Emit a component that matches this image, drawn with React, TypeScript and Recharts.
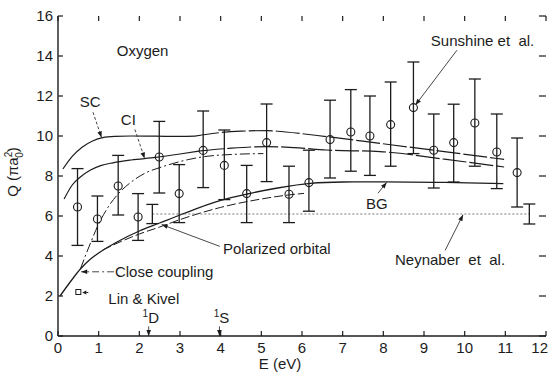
import { ComposedChart, Line, Scatter, ErrorBar, XAxis, YAxis, ReferenceLine, ReferenceDot } from 'recharts'

const INK = '#1c1c1c'
const FONT = '"Liberation Sans", Arial, Helvetica, sans-serif'
const W = 549, H = 373
const M = { top: 16, right: 3, bottom: 0, left: 0 }
const X_H = 37, Y_W = 58
const PLOT_W = W - M.left - M.right - Y_W
const PLOT_H = H - M.top - M.bottom - X_H

const xTicks = [0, 1, 2, 3, 4, 5, 6, 7, 8, 9, 10, 11, 12]
const yTicks = [0, 2, 4, 6, 8, 10, 12, 14, 16]

// Sunshine et al. measurements (open circles with error bars)
const sunE = [0.48, 0.97, 1.48, 1.97, 2.49, 2.98, 3.57, 4.09, 4.64, 5.13, 5.68, 6.17, 6.69, 7.2, 7.67, 8.18, 8.74, 9.24, 9.73, 10.25, 10.79, 11.29]
const sunQ = [6.45, 5.85, 7.5, 5.95, 8.95, 7.12, 9.28, 8.53, 7.12, 9.67, 7.09, 7.67, 9.82, 10.2, 10.0, 10.57, 11.42, 9.29, 9.67, 10.65, 9.2, 8.17]
const sunLo = [1.92, 1.12, 1.45, 1.17, 1.8, 1.45, 1.86, 1.71, 1.45, 1.95, 1.42, 1.43, 1.92, 1.96, 1.97, 2.08, 2.3, 1.89, 1.97, 2.16, 1.83, 1.72]
const sunHi = [1.92, 1.15, 1.53, 1.17, 1.78, 1.45, 1.97, 1.77, 1.41, 1.93, 1.4, 1.62, 1.97, 2.12, 2.0, 2.13, 2.28, 1.81, 1.92, 2.2, 1.9, 1.73]

// Neynaber et al. (dotted level with end error bars)
const neyE = [2.32, 11.59]
const neyQ = [6.1, 6.1]
const neyErr = [0.48, 0.5]

// Lin & Kivel
const linE = [0.5]
const linQ = [2.2]

// theory curves
const scSolidE = [0.12, 0.35, 0.6, 0.85, 1.1, 1.4, 1.8, 2.4, 3.0, 3.37]
const scSolidQ = [8.35, 8.98, 9.45, 9.75, 9.92, 9.98, 10.0, 9.99, 9.98, 9.99]
const scDashE = [3.37, 3.9, 4.5, 5.15, 5.6, 6.6, 7.92, 9.5, 10.97]
const scDashQ = [9.99, 10.15, 10.24, 10.27, 10.2, 9.97, 9.63, 9.22, 8.83]

const ciSolidE = [0.15, 0.35, 0.55, 0.8, 1.05, 1.35, 1.8, 2.4, 3.0, 3.5]
const ciSolidQ = [6.85, 7.55, 7.95, 8.3, 8.52, 8.66, 8.8, 8.93, 9.1, 9.26]
const ciDashE = [3.5, 4.2, 5.13, 5.8, 6.6, 7.92, 9.5, 10.97]
const ciDashQ = [9.26, 9.38, 9.47, 9.42, 9.3, 9.22, 8.84, 8.45]

const ccE = [0.55, 0.75, 1.0, 1.25, 1.5, 1.8, 2.15, 2.55, 3.2, 3.6, 4.3, 5.05]
const ccQ = [3.35, 4.4, 5.6, 6.5, 7.15, 7.7, 8.15, 8.45, 8.82, 8.97, 9.08, 9.12]

const bgE = [0.05, 0.3, 0.55, 0.8, 1.0, 1.45, 2.0, 2.5, 3.0, 4.0, 4.65, 5.4, 6.2, 7.0, 8.0, 9.5, 10.95]
const bgQ = [2.0, 2.7, 3.35, 3.85, 4.15, 4.7, 5.25, 5.65, 6.05, 6.78, 7.1, 7.4, 7.63, 7.7, 7.71, 7.68, 7.62]

const poE = [1.1, 1.5, 2.0, 2.5, 3.0, 4.0, 5.0, 5.7, 6.05]
const poQ = [4.3, 4.68, 5.1, 5.45, 5.82, 6.43, 6.85, 7.06, 7.13]

const toPts = (E: number[], Q: number[]) => E.map((e, i) => ({ E: e, Q: Q[i] }))
const sunData = sunE.map((e, i) => ({ E: e, Q: sunQ[i], err: [sunLo[i], sunHi[i]] }))
const neyData = neyE.map((e, i) => ({ E: e, Q: neyQ[i], err: neyErr[i] }))
const linData = toPts(linE, linQ)

// annotation texts [label, E, Q]
const notes: [string, number, number][] = [
  ['Oxygen', 2.08, 14.0],
  ['SC', 0.79, 11.45],
  ['CI', 1.73, 10.54],
  ['Sunshine et  al.', 10.44, 14.5],
  ['BG', 7.84, 6.37],
  ['Polarized orbital', 5.38, 4.12],
  ['Close coupling', 2.61, 2.95],
  ['Lin & Kivel', 2.11, 1.62],
  ['Neynaber  et  al.', 9.64, 3.53],
]

// leaders [E1, Q1, E2, Q2, dash]
const leaders: [number, number, number, number, string][] = [
  [0.86, 11.19, 1.07, 9.93, '3 2'],
  [1.89, 10.33, 2.13, 8.88, '3 2'],
  [9.81, 14.29, 8.79, 11.55, ''],
  [7.87, 7.14, 8.08, 7.68, ''],
  [3.98, 4.48, 2.55, 5.57, ''],
  [1.38, 3.21, 0.57, 3.21, '7 3 2 3'],
  [9.52, 4.28, 9.96, 6.06, ''],
  [2.23, 0.48, 2.23, 0, ''],
  [3.97, 0.48, 3.97, 0, ''],
]

const levels: [string, number][] = [['D', 2.08], ['S', 3.83]]

const Leader = (dash: string) => (p: any) => {
  const { x1, y1, x2, y2 } = p
  const a = Math.atan2(y2 - y1, x2 - x1)
  const L = 6, HW = 2.3
  const bx = x2 - L * Math.cos(a), by = y2 - L * Math.sin(a)
  const pts = `${x2},${y2} ${bx - HW * Math.sin(a)},${by + HW * Math.cos(a)} ${bx + HW * Math.sin(a)},${by - HW * Math.cos(a)}`
  return (
    <g>
      <line x1={x1} y1={y1} x2={x2} y2={y2} stroke="#333" strokeWidth={0.9} strokeDasharray={dash || undefined} />
      <polygon points={pts} fill={INK} />
    </g>
  )
}

// bottom axis tick: inward mark at bottom and top of the frame, plus label
const BottomTick = (p: any) => {
  const last = p.payload.value === xTicks[xTicks.length - 1]
  return (
    <g>
      <line x1={p.x} y1={p.y} x2={p.x} y2={p.y - 5} stroke={INK} strokeWidth={1.2} />
      <line x1={p.x} y1={p.y - PLOT_H} x2={p.x} y2={p.y - PLOT_H + 5} stroke={INK} strokeWidth={1.2} />
      <text x={last ? W - 1 : p.x} y={p.y + 17} textAnchor={last ? 'end' : 'middle'} fontSize={15} fill={INK} fontFamily={FONT}>{p.payload.value}</text>
    </g>
  )
}
// left axis tick: inward mark on left and right of the frame, plus label
const LeftTick = (p: any) => (
  <g>
    <line x1={p.x} y1={p.y} x2={p.x + 5} y2={p.y} stroke={INK} strokeWidth={1.2} />
    <line x1={p.x + PLOT_W} y1={p.y} x2={p.x + PLOT_W - 7} y2={p.y} stroke={INK} strokeWidth={1.2} />
    <text x={p.x - 5} y={p.y} dy="0.36em" textAnchor="end" fontSize={15} fill={INK} fontFamily={FONT}>{p.payload.value}</text>
  </g>
)

const Ring = (p: any) => <circle cx={p.cx} cy={p.cy} r={4} fill="none" stroke={INK} strokeWidth={1.1} />
const Nothing = () => <g />
const Square = (p: any) => (
  <g>
    <rect x={p.cx - 2.5} y={p.cy - 2.5} width={5} height={5} fill="none" stroke={INK} strokeWidth={1} />
    <polygon points={`${p.cx + 4},${p.cy + 0.5} ${p.cx + 8},${p.cy - 1.5} ${p.cx + 8},${p.cy + 2.5}`} fill={INK} />
    <line x1={p.cx + 8} y1={p.cy + 0.5} x2={p.cx + 10} y2={p.cy + 0.5} stroke={INK} />
  </g>
)

const yLabel = (p: any) => {
  const vb = p.viewBox
  const cx = vb.x + 18, cy = vb.y + 156
  return (
    <text transform={`translate(${cx},${cy}) rotate(-90)`} textAnchor="middle" fontSize={15} fill={INK} fontFamily={FONT}>
      Q (πa<tspan dy={-6} fontSize={10}>2</tspan><tspan dx={-6} dy={11} fontSize={10}>0</tspan><tspan dy={-5}>)</tspan>
    </text>
  )
}
const xLabel = (p: any) => {
  const vb = p.viewBox
  return (
    <text x={vb.x + 222} y={vb.y + 33} textAnchor="middle" fontSize={15} fill={INK} fontFamily={FONT}>E (eV)</text>
  )
}

const lineProps = { dataKey: 'Q', dot: false, activeDot: false, isAnimationActive: false, stroke: INK, strokeWidth: 1.2, type: 'monotone' as const }

export default function App() {
  return (
    <div style={{ position: 'absolute', left: 0, top: 0, width: W, height: H, background: '#fff' }}>
      <ComposedChart width={W} height={H} margin={M}>
        <XAxis xAxisId={0} dataKey="E" type="number" domain={[0, 12]} ticks={xTicks} interval={0} allowDataOverflow
          height={X_H} tickSize={0} tickMargin={0} tickLine={false} tick={BottomTick}
          axisLine={{ stroke: INK, strokeWidth: 1.4 }} label={{ content: xLabel }} />
        <XAxis xAxisId="top" orientation="top" dataKey="E" type="number" domain={[0, 12]} ticks={xTicks} allowDataOverflow
          height={0} tickLine={false} tick={false} axisLine={{ stroke: INK, strokeWidth: 1.4 }} />
        <YAxis yAxisId={0} type="number" domain={[0, 16]} ticks={yTicks} interval={0} allowDataOverflow
          width={Y_W} tickSize={0} tickMargin={0} tickLine={false} tick={LeftTick}
          axisLine={{ stroke: INK, strokeWidth: 1.4 }} label={{ content: yLabel }} />
        <YAxis yAxisId="right" orientation="right" type="number" domain={[0, 16]} ticks={yTicks} allowDataOverflow
          width={0} tickLine={false} tick={false} axisLine={{ stroke: INK, strokeWidth: 1.4 }} />

        <Line {...lineProps} data={toPts(scSolidE, scSolidQ)} />
        <Line {...lineProps} data={toPts(scDashE, scDashQ)} strokeDasharray="24 3" />
        <Line {...lineProps} data={toPts(ciSolidE, ciSolidQ)} />
        <Line {...lineProps} data={toPts(ciDashE, ciDashQ)} strokeDasharray="24 3" />
        <Line {...lineProps} data={toPts(ccE, ccQ)} strokeDasharray="10 3 2 3" strokeWidth={1} />
        <Line {...lineProps} data={toPts(bgE, bgQ)} strokeWidth={1.3} />
        <Line {...lineProps} data={toPts(poE, poQ)} strokeDasharray="9 3" strokeWidth={1} />
        <Line {...lineProps} data={toPts(neyE, neyQ)} type="linear" stroke="#777" strokeWidth={1} strokeDasharray="2 2" />

        <Scatter data={neyData} dataKey="Q" shape={Nothing} isAnimationActive={false}>
          <ErrorBar dataKey="err" direction="y" width={6} stroke={INK} strokeWidth={1.3} />
        </Scatter>
        <Scatter data={sunData} dataKey="Q" shape={Ring} isAnimationActive={false}>
          <ErrorBar dataKey="err" direction="y" width={6} stroke={INK} strokeWidth={1.3} />
        </Scatter>
        <Scatter data={linData} dataKey="Q" shape={Square} isAnimationActive={false} />

        {leaders.map(([e1, q1, e2, q2, d], i) => (
          <ReferenceLine key={'l' + i} segment={[{ x: e1, y: q1 }, { x: e2, y: q2 }]} shape={Leader(d)} />
        ))}
        {notes.map(([t, e, q]) => (
          <ReferenceDot key={t} x={e} y={q} r={0}
            shape={(p: any) => <text x={p.cx} y={p.cy} textAnchor="middle" fontSize={15} fill={INK} fontFamily={FONT} style={{ whiteSpace: 'pre' }}>{t}</text>} />
        ))}
        {levels.map(([t, e]) => (
          <ReferenceDot key={t} x={e} y={0.65} r={0}
            shape={(p: any) => (
              <text x={p.cx} y={p.cy} fontSize={15} fill={INK} fontFamily={FONT}>
                <tspan fontSize={10} dy={-6}>1</tspan><tspan dy={6}>{t}</tspan>
              </text>
            )} />
        ))}
      </ComposedChart>
    </div>
  )
}
